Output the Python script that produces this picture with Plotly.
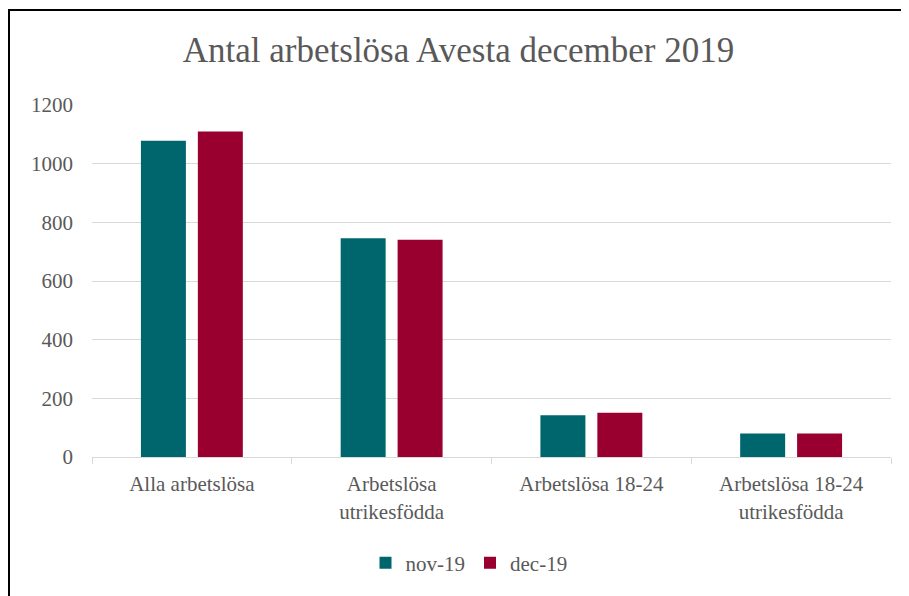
import plotly.graph_objects as go

categories = ["Alla arbetslösa", "Arbetslösa<br>utrikesfödda", "Arbetslösa 18-24", "Arbetslösa 18-24<br>utrikesfödda"]
nov_19 = [1078, 746, 142, 80]
dec_19 = [1110, 741, 151, 80]
series_names = ["nov-19", "dec-19"]
y_ticks = [0, 200, 400, 600, 800, 1000, 1200]

FONT = "Liberation Serif"
GRAY = "#595959"

fig = go.Figure()
fig.add_trace(go.Bar(x=categories, y=nov_19, name=series_names[0],
                     marker=dict(color="#00666E", line=dict(width=0))))
fig.add_trace(go.Bar(x=categories, y=dec_19, name=series_names[1],
                     marker=dict(color="#990030", line=dict(width=0))))

# page has an 8px body margin; figure coords = page coords - 8
W, H = 901, 588
L, R, T, B = 84, 18, 97, 139
pw = W - L - R
ph = H - T - B

def px_x(p):
    return (p - L) / pw

def px_y(p):
    return (H - B - p) / ph

fig.update_layout(
    width=W, height=H,
    margin=dict(l=L, r=R, t=T, b=B),
    paper_bgcolor="white", plot_bgcolor="white",
    barmode="group", bargap=0.43, bargroupgap=0.21,
    font=dict(family=FONT, color=GRAY, size=21),
    title=dict(text="Antal arbetslösa Avesta december 2019",
               font=dict(family=FONT, size=35, color=GRAY),
               x=0.5, xanchor="center", y=1 - 42 / H, yanchor="middle"),
    legend=dict(orientation="h", x=px_x(469 - 8), xanchor="center",
                y=px_y(555), yanchor="middle",
                font=dict(family=FONT, size=21, color=GRAY),
                itemwidth=30, traceorder="normal"),
    xaxis=dict(showgrid=False, showline=True, linecolor="#d9d9d9", linewidth=1,
               ticks="outside", tickson="boundaries", ticklen=6, tickcolor="#d9d9d9",
               tickfont=dict(family=FONT, size=21, color=GRAY), ticklabelstandoff=8),
    yaxis=dict(range=[0, 1200], tickvals=y_ticks, showgrid=True, gridcolor="#d9d9d9",
               gridwidth=1, zeroline=False, showline=False, ticks="",
               tickfont=dict(family=FONT, size=21, color=GRAY), ticklabelstandoff=18),
    shapes=[dict(type="rect", xref="paper", yref="paper",
                 x0=px_x(1), x1=px_x(940), y0=px_y(640), y1=px_y(2),
                 line=dict(color="black", width=2), fillcolor="rgba(0,0,0,0)", layer="above")],
)

fig.write_html("out.html")
